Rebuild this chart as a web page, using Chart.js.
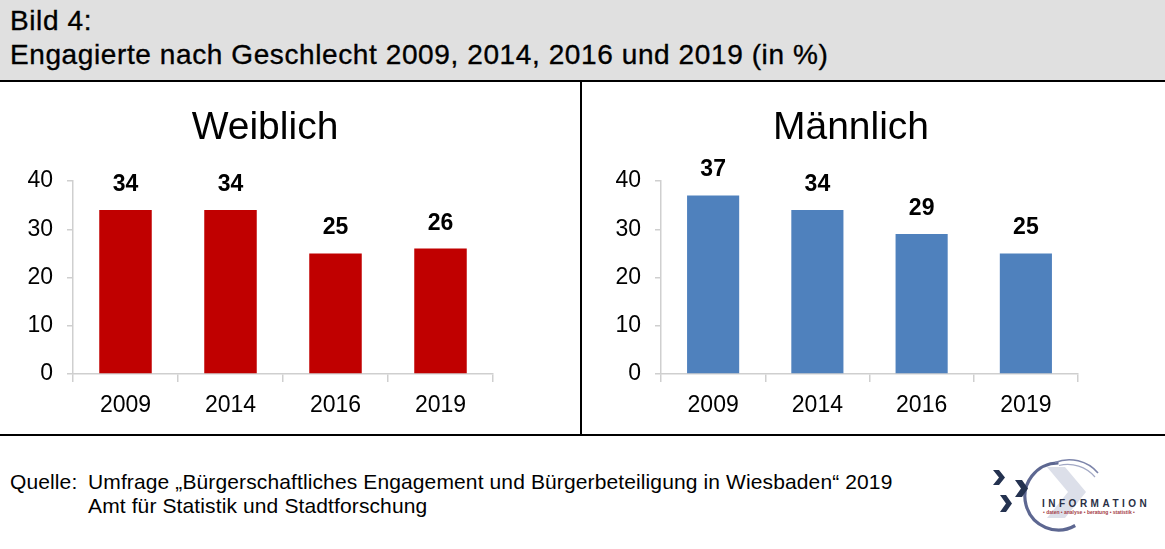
<!DOCTYPE html>
<html>
<head>
<meta charset="utf-8">
<script src="https://cdn.jsdelivr.net/npm/chart.js@4.4.1/dist/chart.umd.min.js"></script>
<style>
  html, body { margin: 0; padding: 0; background: #fff; }
  body { width: 1165px; height: 549px; position: relative; overflow: hidden;
         font-family: "Liberation Sans", Arial, sans-serif; color: #000; }
  .abs { position: absolute; }
  #header { left: 0; top: 0; width: 1165px; height: 80px; background: #e0e0e0; border-bottom: 2px solid #000; }
  .htxt { position: absolute; left: 10px; font-size: 28px; line-height: 32px; white-space: nowrap;
          letter-spacing: 0.6px; -webkit-text-stroke: 0.35px #000; }
  .ptitle { position: absolute; width: 400px; text-align: center; font-size: 39px; white-space: nowrap; }
  .foot { position: absolute; font-size: 21px; line-height: 24px; letter-spacing: 0.12px; white-space: nowrap; }
</style>
</head>
<body>
<div id="header" class="abs">
  <div class="htxt" style="top:5px;">Bild 4:</div>
  <div class="htxt" style="top:39px;">Engagierte nach Geschlecht 2009, 2014, 2016 und 2019 (in %)</div>
</div>

<div class="abs" style="left:580px; top:82px; width:2px; height:352px; background:#000;"></div>
<div class="abs" style="left:0; top:434px; width:1165px; height:2px; background:#000;"></div>

<canvas id="cW" class="abs" width="580" height="352" style="left:0; top:82px; width:580px; height:352px;"></canvas>
<canvas id="cM" class="abs" width="583" height="352" style="left:582px; top:82px; width:583px; height:352px;"></canvas>

<div class="ptitle" id="tW" style="left:65px; top:104px;">Weiblich</div>
<div class="ptitle" id="tM" style="left:651px; top:104px;">Männlich</div>

<div class="foot" style="left:10px; top:470px;">Quelle:</div>
<div class="foot" style="left:88px; top:470px;">Umfrage „Bürgerschaftliches Engagement und Bürgerbeteiligung in Wiesbaden“ 2019</div>
<div class="foot" style="left:88px; top:494px;">Amt für Statistik und Stadtforschung</div>

<svg class="abs" style="left:985px; top:452px;" width="180" height="90" viewBox="0 0 180 90">
  <path d="M62 15 L80 15 L101 40 L80 66 L62 66 L83 40 Z" fill="#dcdfe9"/>
  <path d="M73.5 11 A33.5 33.5 0 1 0 90.2 73.5" fill="none" stroke="#5d6791" stroke-width="3.2"/>
  <path d="M70 10.5 A38 38 0 0 1 113 21" fill="none" stroke="#7c84aa" stroke-width="1.6"/>
  <path d="M74 13.5 A36 36 0 0 1 110 25" fill="none" stroke="#a3a9c5" stroke-width="1.2"/>
  <path d="M8 18 L14 18 L20 25.5 L14 33 L8 33 L14 25.5 Z" fill="#243250"/>
  <path d="M30 28 L37 28 L43 36.5 L37 45 L30 45 L36 36.5 Z" fill="#243250"/>
  <path d="M15 43 L21 43 L27 51.5 L21 60 L15 60 L21 51.5 Z" fill="#243250"/>
  <text x="57" y="55" font-family="Liberation Sans, Arial" font-size="10" font-weight="bold" letter-spacing="3.5" fill="#2a2f45">INFORMATION</text>
  <text x="58" y="62" font-family="Liberation Sans, Arial" font-size="5" font-weight="bold" fill="#a33b45">• daten • analyse • beratung • statistik •</text>
</svg>

<script>
const years = ['2009', '2014', '2016', '2019'];
const weiblich = [34, 34, 25, 26];
const maennlich = [37, 34, 29, 25];
const yMin = 0;
const yMax = 40;
const yStep = 10;

const FONT = "'Liberation Sans', Arial, sans-serif";

const valueLabels = {
  id: 'valueLabels',
  afterDatasetsDraw(chart) {
    const ctx = chart.ctx;
    ctx.save();
    ctx.font = 'bold 23px ' + FONT;
    ctx.fillStyle = '#000';
    ctx.textAlign = 'center';
    ctx.textBaseline = 'alphabetic';
    chart.data.datasets.forEach((ds, i) => {
      chart.getDatasetMeta(i).data.forEach((bar, j) => {
        ctx.fillText(String(ds.data[j]), bar.x, bar.y - 19);
      });
    });
    ctx.restore();
  }
};

function makeChart(id, data, color, yWidth, padRight) {
  return new Chart(document.getElementById(id), {
    type: 'bar',
    data: {
      labels: years,
      datasets: [{
        data: data,
        backgroundColor: color,
        borderWidth: 0,
        categoryPercentage: 1,
        barPercentage: 0.5
      }]
    },
    options: {
      responsive: false,
      animation: false,
      devicePixelRatio: 1,
      layout: { padding: { top: 99, right: padRight, bottom: 10, left: 0 } },
      plugins: { legend: { display: false }, tooltip: { enabled: false }, title: { display: false } },
      scales: {
        x: {
          grid: { display: true, drawOnChartArea: false, drawTicks: true, tickLength: 8, color: '#cfcfcf', offset: true, lineWidth: 1.5 },
          border: { display: true, color: '#cfcfcf', width: 1.5 },
          ticks: { color: '#000', font: { family: FONT, size: 23 }, padding: 10 },
          afterFit(s) { s.height = 50; }
        },
        y: {
          min: yMin, max: yMax,
          grid: { display: true, drawOnChartArea: false, drawTicks: true, tickLength: 6, color: '#cfcfcf', lineWidth: 1.5 },
          border: { display: true, color: '#cfcfcf', width: 1.5 },
          ticks: { stepSize: yStep, color: '#000', font: { family: FONT, size: 23 }, padding: 14 },
          afterFit(s) { s.width = yWidth; }
        }
      }
    },
    plugins: [valueLabels]
  });
}

makeChart('cW', weiblich, '#c00000', 73, 87);
makeChart('cM', maennlich, '#4f81bd', 79, 87);
</script>
</body>
</html>
